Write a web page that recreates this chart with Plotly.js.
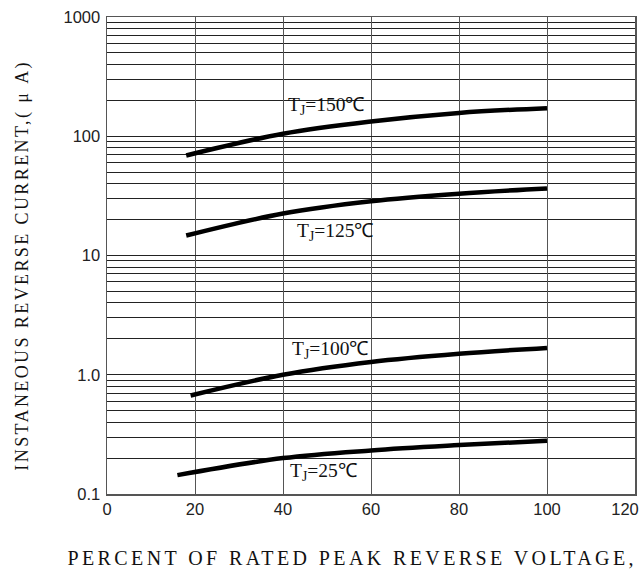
<!DOCTYPE html>
<html>
<head>
<meta charset="utf-8">
<script src="https://cdn.plot.ly/plotly-3.0.1.min.js"></script>
<style>
  html, body { margin: 0; padding: 0; background: #fff; }
  #chart { width: 641px; height: 570px; }
</style>
</head>
<body>
<div id="chart"></div>
<script>
// ---- data ----
var seriesNames = ["T<sub>J</sub>=150℃", "T<sub>J</sub>=125℃", "T<sub>J</sub>=100℃", "T<sub>J</sub>=25℃"];
var x150 = [18, 40, 60, 80, 100];
var y150 = [69, 105, 133, 157, 172];
var x125 = [18, 40, 60, 80, 100];
var y125 = [14.7, 22.5, 28.5, 33, 36.5];
var x100 = [19, 40, 60, 80, 100];
var y100 = [0.67, 1.0, 1.28, 1.5, 1.68];
var x25 = [16, 40, 60, 80, 100];
var y25 = [0.144, 0.2, 0.232, 0.257, 0.28];

var xTickVals = [0, 20, 40, 60, 80, 100];
var xTickText = ["0", "20", "40", "60", "80", "100"];
var xEdgeTickVals = [120];
var xEdgeTickText = ["120"];
var yTickVals = [0.1, 1, 10, 100, 1000];
var yTickText = ["0.1", "1.0", "10", "100", "1000"];

var xTitle = "PERCENT OF RATED PEAK REVERSE VOLTAGE,";
var yTitle = "INSTANEOUS REVERSE CURRENT,( μ A)";

// label anchor points (x in %, y in µA)
var labelX = [49.8, 51.8, 50.7, 49.1];
var labelY = [178, 15.6, 1.62, 0.153];

var serif = "Liberation Serif, Times New Roman, serif";
var sans = "Liberation Sans, Arial, sans-serif";

function curve(x, y) {
  return {
    x: x, y: y, type: "scatter", mode: "lines",
    line: { color: "#000", width: 4.5, shape: "spline", smoothing: 1 },
    hoverinfo: "skip", showlegend: false
  };
}
var data = [curve(x150, y150), curve(x125, y125), curve(x100, y100), curve(x25, y25),
  { x: [], y: [], type: "scatter", mode: "lines", xaxis: "x2", yaxis: "y",
    hoverinfo: "skip", showlegend: false }];

var annotations = [
  { text: xTitle, xref: "paper", yref: "paper", x: 0.464, y: -0.134,
    xanchor: "center", yanchor: "middle", showarrow: false,
    font: { family: serif, size: 20, color: "#111" } },
  { text: yTitle, xref: "paper", yref: "paper", x: -0.161, y: 0.48,
    xanchor: "center", yanchor: "middle", textangle: -90, showarrow: false,
    font: { family: serif, size: 18, color: "#111" } }
];
for (var i = 0; i < seriesNames.length; i++) {
  annotations.push({
    text: seriesNames[i], x: labelX[i], y: Math.log10(labelY[i]),
    xref: "x", yref: "y", showarrow: false, xanchor: "center", yanchor: "middle",
    font: { family: serif, size: 19.5, color: "#111" }
  });
}

var tickFont = { family: sans, size: 16.5, color: "#222" };

var layout = {
  width: 641, height: 570,
  margin: { l: 107, r: 6, t: 17, b: 76, pad: 0 },
  paper_bgcolor: "#fff", plot_bgcolor: "#fff",
  showlegend: false,
  xaxis: {
    range: [0, 120], tickmode: "array", tickvals: xTickVals, ticktext: xTickText,
    showgrid: true, gridcolor: "#555", gridwidth: 1,
    showline: true, linecolor: "#555", linewidth: 1.5, mirror: true,
    zeroline: false, ticks: "", ticklabelstandoff: 0,
    tickfont: tickFont
  },
  xaxis2: {
    overlaying: "x", anchor: "y", side: "bottom", range: [0, 120],
    tickmode: "array", tickvals: xEdgeTickVals, ticktext: xEdgeTickText,
    showgrid: false, showline: false, zeroline: false, ticks: "",
    ticklabelstandoff: 3, ticklabelshift: -10, ticklabeloverflow: "allow",
    tickfont: tickFont
  },
  yaxis: {
    type: "log", range: [-1, 3], tickmode: "array", tickvals: yTickVals, ticktext: yTickText,
    showgrid: true, gridcolor: "#222", gridwidth: 1,
    minor: { dtick: "D1", showgrid: true, gridcolor: "#222", gridwidth: 1, ticks: "" },
    showline: true, linecolor: "#555", linewidth: 1.5, mirror: true,
    zeroline: false, ticks: "", ticklabelstandoff: 2,
    tickfont: tickFont
  },
  annotations: annotations
};

Plotly.newPlot("chart", data, layout, { staticPlot: true, displayModeBar: false }).then(function (gd) {
  var t0 = gd.querySelector('.annotation[data-index="0"] text.annotation-text');
  if (t0) t0.setAttribute("letter-spacing", "3.4px");
  var t1 = gd.querySelector('.annotation[data-index="1"] text.annotation-text');
  if (t1) t1.setAttribute("letter-spacing", "2.4px");
});
</script>
</body>
</html>
